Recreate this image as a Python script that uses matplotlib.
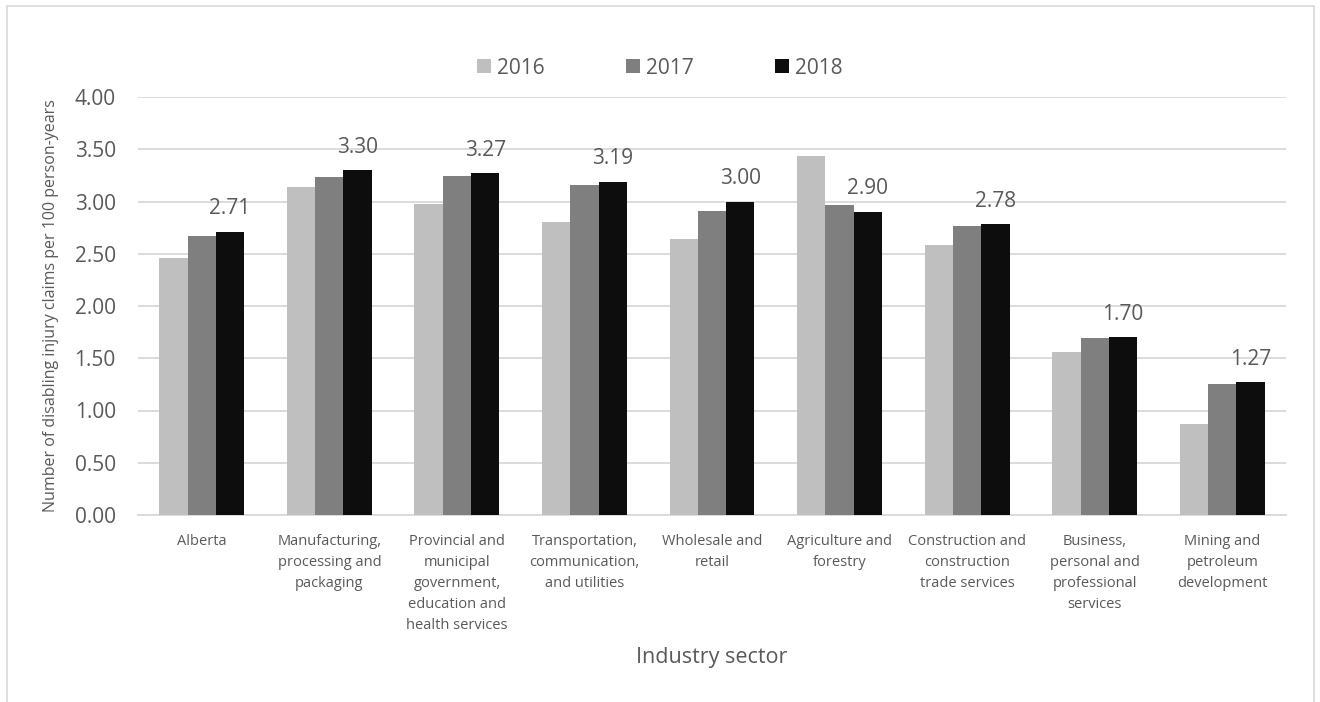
import matplotlib
matplotlib.use("Agg")
import matplotlib.pyplot as plt
from matplotlib.patches import Rectangle
import numpy as np

plt.rcParams['font.family'] = ['Open Sans', 'DejaVu Sans']

categories = [
    "Alberta",
    "Manufacturing,\nprocessing and\npackaging",
    "Provincial and\nmunicipal\ngovernment,\neducation and\nhealth services",
    "Transportation,\ncommunication,\nand utilities",
    "Wholesale and\nretail",
    "Agriculture and\nforestry",
    "Construction and\nconstruction\ntrade services",
    "Business,\npersonal and\nprofessional\nservices",
    "Mining and\npetroleum\ndevelopment",
]
years = ["2016", "2017", "2018"]
rates_2016 = [2.46, 3.14, 2.98, 2.80, 2.64, 3.44, 2.58, 1.56, 0.87]
rates_2017 = [2.67, 3.23, 3.24, 3.16, 2.91, 2.97, 2.77, 1.69, 1.25]
rates_2018 = [2.71, 3.30, 3.27, 3.19, 3.00, 2.90, 2.78, 1.70, 1.27]
yticks = [0.0, 0.5, 1.0, 1.5, 2.0, 2.5, 3.0, 3.5, 4.0]

colors = ["#BFBFBF", "#7F7F7F", "#0D0D0D"]
text_color = "#595959"
grid_color = "#D9D9D9"

fig = plt.figure(figsize=(13.2, 7.02), dpi=100)
ax = fig.add_axes([138 / 1320, 1 - 515 / 702, 1148 / 1320, 418 / 702])

x = np.arange(len(categories))
w = 0.222
series = [rates_2016, rates_2017, rates_2018]
bars = []
for i, (vals, c, yr) in enumerate(zip(series, colors, years)):
    b = ax.bar(x + (i - 1) * w, vals, width=w, color=c, label=yr, zorder=3)
    bars.append(b)

ax.bar_label(bars[2], labels=[f"{v:.2f}" for v in rates_2018], padding=9,
             fontsize=15, color=text_color)

ax.set_xlim(-0.5, len(categories) - 0.5)
ax.set_ylim(0, 4.0)
ax.set_yticks(yticks)
ax.set_yticklabels([f"{t:.2f}" for t in yticks], fontsize=15, color=text_color)
ax.set_xticks(x)
ax.set_xticklabels(categories, fontsize=10.5, color=text_color, linespacing=1.55, va="top")
ax.tick_params(axis="both", length=0)
ax.tick_params(axis="x", pad=13.5)
ax.tick_params(axis="y", pad=16)
ax.yaxis.grid(True, color=grid_color, linewidth=1.3, zorder=0)
ax.set_axisbelow(True)
for s in ["top", "right", "left"]:
    ax.spines[s].set_visible(False)
ax.spines["bottom"].set_color(grid_color)
ax.spines["bottom"].set_linewidth(1.3)

ax.set_ylabel("Number of disabling injury claims per 100 person-years",
              fontsize=11.5, color=text_color, labelpad=11)
fig.text(712 / 1320, 1 - 658 / 702, "Industry sector", ha="center", va="center",
         fontsize=15.5, color=text_color)

leg = fig.legend(loc="center", bbox_to_anchor=(0.5, 1 - 68 / 702), ncol=3, frameon=False,
                 fontsize=15, handlelength=0.67, handleheight=0.67,
                 handletextpad=0.3, columnspacing=3.9)
for t in leg.get_texts():
    t.set_color(text_color)

fig.patches.append(Rectangle((7 / 1320, -0.05), 1307 / 1320, 1 - 6 / 702 + 0.05,
                             transform=fig.transFigure, fill=False,
                             edgecolor="#D9D9D9", linewidth=1.2))

fig.savefig("out.png", dpi=100, facecolor="white")
